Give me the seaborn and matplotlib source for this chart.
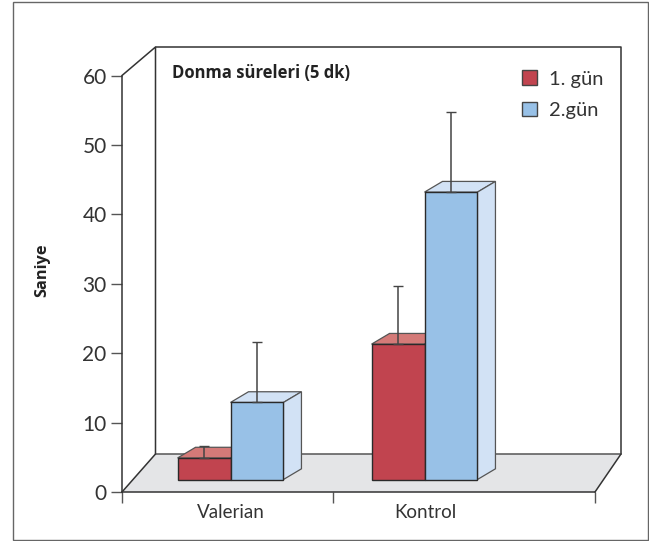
import matplotlib
matplotlib.use("Agg")
import matplotlib.pyplot as plt
import pandas as pd
import seaborn as sns
from matplotlib.patches import Polygon, Rectangle
from matplotlib.lines import Line2D

groups = ["Valerian", "Valerian", "Kontrol", "Kontrol"]
days = ["1. gün", "2.gün", "1. gün", "2.gün"]
values = [4.9, 12.9, 21.3, 43.2]
errors = [1.7, 8.7, 8.4, 11.5]
y_ticks = [0, 10, 20, 30, 40, 50, 60]

W, H = 649, 541
RED, RED_TOP = "#C1444F", "#D47A78"
BLUE, BLUE_SIDE = "#98C1E7", "#D2E2F5"
EDGE = "#2A2A2A"
GREY = "#555555"
TXT = "#333333"

sns.set_theme(style="white")
plt.rcParams["font.family"] = ["Lato", "DejaVu Sans"]

fig = plt.figure(figsize=(W / 100, H / 100), dpi=100)
ax = fig.add_axes([122 / W, (H - 492) / H, 473 / W, 416.5 / H])

df = pd.DataFrame({"grup": groups, "gun": days, "saniye": values})
sns.barplot(data=df, x="grup", y="saniye", hue="gun", palette=[RED, BLUE],
            width=0.546, gap=0, errorbar=None, saturation=1,
            edgecolor=EDGE, linewidth=1.0, legend=True, ax=ax, zorder=4)

px = 1 / 194.0                # data units per pixel, x
py = 60 / 416.5               # data units per pixel, y
ax.set_xlim(-108.5 * px, 364.5 * px)
ax.set_ylim(0, 60)

# floor and back walls of the 3D box
dx, dy = 33.5 * px, 38 * py
x0, x1 = ax.get_xlim()
ax.add_patch(Polygon([(x0, 0), (x1, 0), (x1 + 26 * px, dy), (x0 + dx, dy)],
                     closed=True, fc="#E4E5E7", ec="none", zorder=1, clip_on=False))
ytop = 60 + 28.5 * py
for xs, ys, c in [([x0, x0 + dx, x0 + dx], [60, ytop, dy], "#333333"),
                  ([x0 + dx, x1 + 26 * px, x1 + 26 * px], [ytop, ytop, dy], "#333333"),
                  ([x0 + dx, x1 + 26 * px], [dy, dy], GREY),
                  ([x0, x0 + dx], [0, dy], "#333333"),
                  ([x1, x1 + 26 * px], [0, dy], "#333333")]:
    ax.add_line(Line2D(xs, ys, color=c, lw=1.1, clip_on=False, zorder=2))

# bars: lifted off the front edge, with top and side faces
lift = 12.5 * py
bx, by = 18 * px, 10.7 * py
bars = [p for p in ax.patches if isinstance(p, Rectangle) and p.get_height() > 0
        and p.get_zorder() == 4][:4]
bars = sorted(bars, key=lambda p: p.get_x())
for p, v, e in zip(bars, values, errors):
    p.set_y(lift)
    p.set_height(v - lift)
    l, r = p.get_x(), p.get_x() + p.get_width()
    is_blue = p.get_facecolor()[2] > 0.6
    top = BLUE_SIDE if is_blue else RED_TOP
    ax.add_patch(Polygon([(l, v), (r, v), (r + bx, v + by), (l + bx, v + by)],
                         closed=True, fc=top, ec=GREY, lw=0.9, zorder=3))
    ax.add_patch(Polygon([(r, lift), (r + bx, lift + by), (r + bx, v + by), (r, v)],
                         closed=True, fc=BLUE_SIDE if is_blue else RED, ec=GREY, lw=0.9, zorder=3))
    ax.errorbar((l + r) / 2, v, yerr=[[0], [e]], color="#444444", lw=1.1,
                capsize=3.8, capthick=1.0, zorder=5, clip_on=False)

# axes
for s in ["top", "right"]:
    ax.spines[s].set_visible(False)
for s in ["left", "bottom"]:
    ax.spines[s].set_color("#333333")
    ax.spines[s].set_linewidth(1.1)
ax.set_yticks(y_ticks)
ax.tick_params(axis="y", left=True, length=8, width=1.0, color=GREY,
               labelsize=15, labelcolor=TXT, pad=3)
ax.set_xticks([0, 1.005])
ax.set_xticklabels(["Valerian", "Kontrol"], fontsize=13.5, color=TXT)
ax.tick_params(axis="x", which="major", bottom=False, pad=3)
ax.set_xticks([x0, 102.5 * px, x1], minor=True)
ax.tick_params(axis="x", which="minor", bottom=True, length=8, width=1.0, color=GREY)
ax.set_xlabel("")
ax.set_ylabel("")
ax.grid(False)
BOLD = ["Open Sans", "DejaVu Sans"]
fig.text(42 / W, (H - 270) / H, "Saniye", rotation=90, ha="center", va="center",
         fontsize=11.8, fontweight="bold", color="#222222", family=BOLD)
fig.text(172 / W, (H - 73) / H, "Donma süreleri (5 dk)", ha="left", va="center",
         fontsize=12, fontweight="bold", color="#222222", family=BOLD)

# legend
h, lab = ax.get_legend_handles_labels()
leg = ax.legend(h, lab, frameon=False, loc="upper left",
                bbox_to_anchor=((522 - 122 - 4) / 473, 1.022), fontsize=14.5,
                handlelength=0.72, handleheight=0.72, handletextpad=0.62,
                labelspacing=0.72, borderpad=0.2, borderaxespad=0)
for t in leg.get_texts():
    t.set_color(TXT)
for hp in leg.legend_handles:
    hp.set_edgecolor("#444444")
    hp.set_linewidth(1.0)

# outer frame
fig.add_artist(Rectangle((13 / W, (H - 540) / H), 635 / W, 538 / H, transform=fig.transFigure,
                         fill=False, ec="#666666", lw=1.0))
fig.savefig("out.png", dpi=100)
